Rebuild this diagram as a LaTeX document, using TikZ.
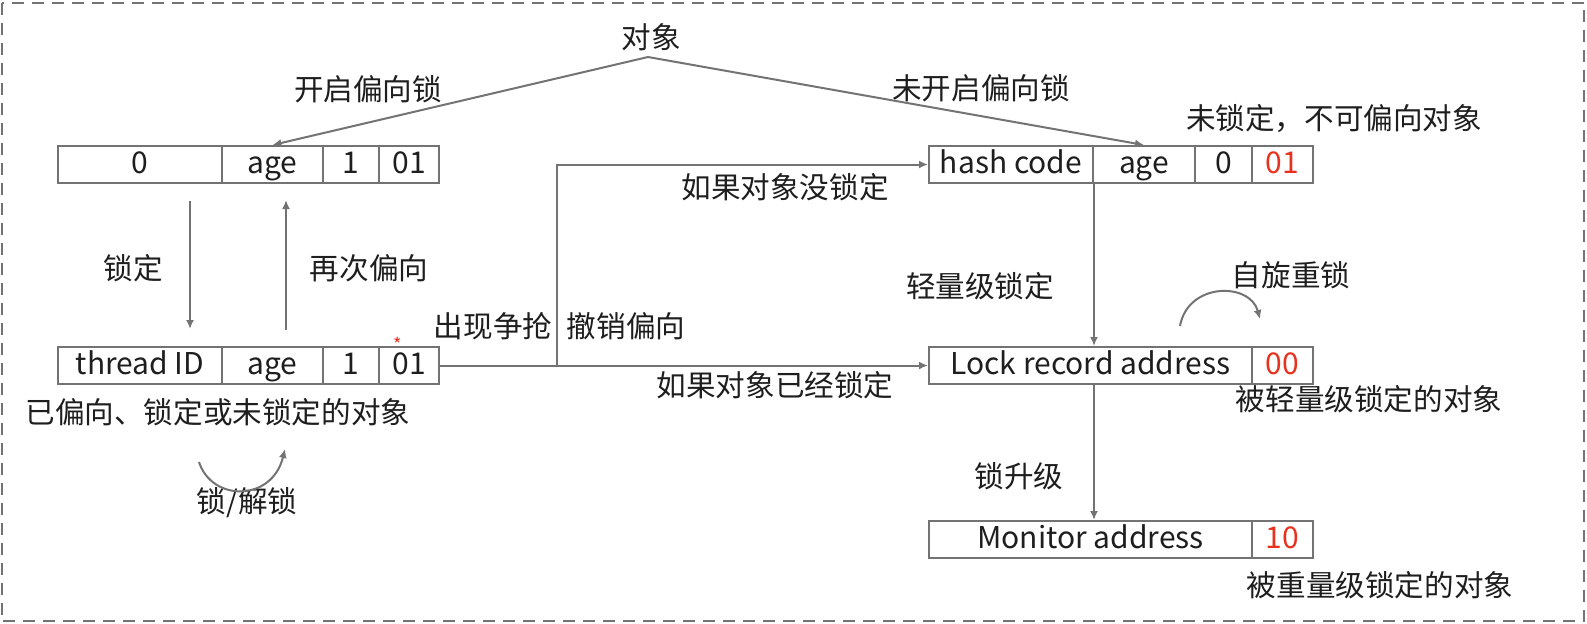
\documentclass[tikz,border=0pt]{standalone}
\usepackage{fontspec}
\setmainfont{Noto Sans CJK SC}
\usetikzlibrary{arrows.meta}
\definecolor{ln}{HTML}{737373}
\definecolor{tx}{HTML}{1E1E1E}
\definecolor{rd}{HTML}{E8321E}
\tikzset{
  cell/.style={draw=ln, line width=1pt, minimum height=18.5pt, inner sep=0pt, text height=11.5pt, text depth=2.5pt, text=tx, font=\fontsize{15}{16}\selectfont},
  lbl/.style={inner sep=0pt, text=tx, font=\fontsize{14.8}{16}\selectfont},
  conn/.style={draw=ln, line width=1pt},
  arr/.style={conn, -{Latex[length=4.5pt,width=4pt]}},
}
\begin{document}
\begin{tikzpicture}[x=0.5pt,y=-0.5pt]
\useasboundingbox (0,0) rectangle (1587,623);
\draw[ln, line width=1pt, dash pattern=on 6pt off 4pt] (1.5,2.5) rectangle (1584,621);

% top-left box
\node[cell, minimum width=82pt]   (b1a) at (140,164.5)   {0};
\node[cell, minimum width=50.5pt] (b1b) at (272.5,164.5) {age};
\node[cell, minimum width=28pt]   (b1c) at (351,164.5)   {1};
\node[cell, minimum width=30pt]   (b1d) at (409,164.5)   {01};
% thread box
\node[cell, minimum width=82pt]   (b2a) at (140,365.5)   {thread ID};
\node[cell, minimum width=50.5pt] (b2b) at (272.5,365.5) {age};
\node[cell, minimum width=28pt]   (b2c) at (351,365.5)   {1};
\node[cell, minimum width=30pt]   (b2d) at (409,365.5)   {01};
\node[inner sep=0pt, text=rd, font=\fontsize{9}{9}\selectfont] (ast) at (398,344) {*};
% hash box
\node[cell, minimum width=82pt]   (h1) at (1011,164.5)   {hash code};
\node[cell, minimum width=51pt]   (h2) at (1144,164.5)   {age};
\node[cell, minimum width=28.5pt] (h3) at (1223.5,164.5) {0};
\node[cell, minimum width=30.5pt, text=rd] (h4) at (1282.5,164.5) {01};
% lock box
\node[cell, minimum width=161.5pt] (l1) at (1090.5,365.5) {Lock record address};
\node[cell, minimum width=30.5pt, text=rd] (l2) at (1282.5,365.5) {00};
% monitor box
\node[cell, minimum width=161.5pt] (m1) at (1090.5,539.5) {Monitor address};
\node[cell, minimum width=30.5pt, text=rd] (m2) at (1282.5,539.5) {10};

% labels
\node[lbl] (obj) at (651,37) {对象};
\node[lbl] (t1) at (368,89) {开启偏向锁};
\node[lbl] (t2) at (981,88) {未开启偏向锁};
\node[lbl] (t3) at (1334,119) {未锁定，不可偏向对象};
\node[lbl] (t4) at (133,268) {锁定};
\node[lbl] (t5) at (369,268) {再次偏向};
\node[lbl] (t6) at (218,412) {已偏向、锁定或未锁定的对象};
\node[lbl] (t7) at (247,503) {锁/解锁};
\node[lbl] (t8) at (493,326) {出现争抢};
\node[lbl] (t9) at (626,326) {撤销偏向};
\node[lbl] (t10) at (785,187) {如果对象没锁定};
\node[lbl] (t11) at (775,385) {如果对象已经锁定};
\node[lbl] (t12) at (980,286) {轻量级锁定};
\node[lbl] (t13) at (1291,275) {自旋重锁};
\node[lbl] (t14) at (1369,399) {被轻量级锁定的对象};
\node[lbl] (t15) at (1019,476) {锁升级};
\node[lbl] (t16) at (1380,585) {被重量级锁定的对象};

% connectors
\coordinate (top) at (648,57);
\draw[arr] (top) -- (b1b.north);
\draw[arr] (top) -- (h2.north);

\coordinate (d1) at (190,201);
\coordinate (d2) at (190,329);
\draw[arr] (d1) -- (d2);
\coordinate (u1) at (286,330);
\coordinate (u2) at (286,200);
\draw[arr] (u1) -- (u2);

\coordinate (split) at (557,365.5);
\draw[arr] (b2d.east) -- (l1.west);
\draw[arr] (split) |- (h1.west);

\draw[arr] (h1.south east) -- (l1.north -| h1.south east);
\draw[arr] (l1.south -| h1.south east) -- (m1.north -| h1.south east);

\coordinate (a1) at (199,462);
\coordinate (a2) at (285,449);
\draw[arr] (a1) .. controls (212,502) and (272,502) .. (a2);
\coordinate (c1) at (1180,326);
\coordinate (c2) at (1260,319);
\draw[arr] (c1) .. controls (1188,282) and (1250,282) .. (c2);
\end{tikzpicture}
\end{document}
